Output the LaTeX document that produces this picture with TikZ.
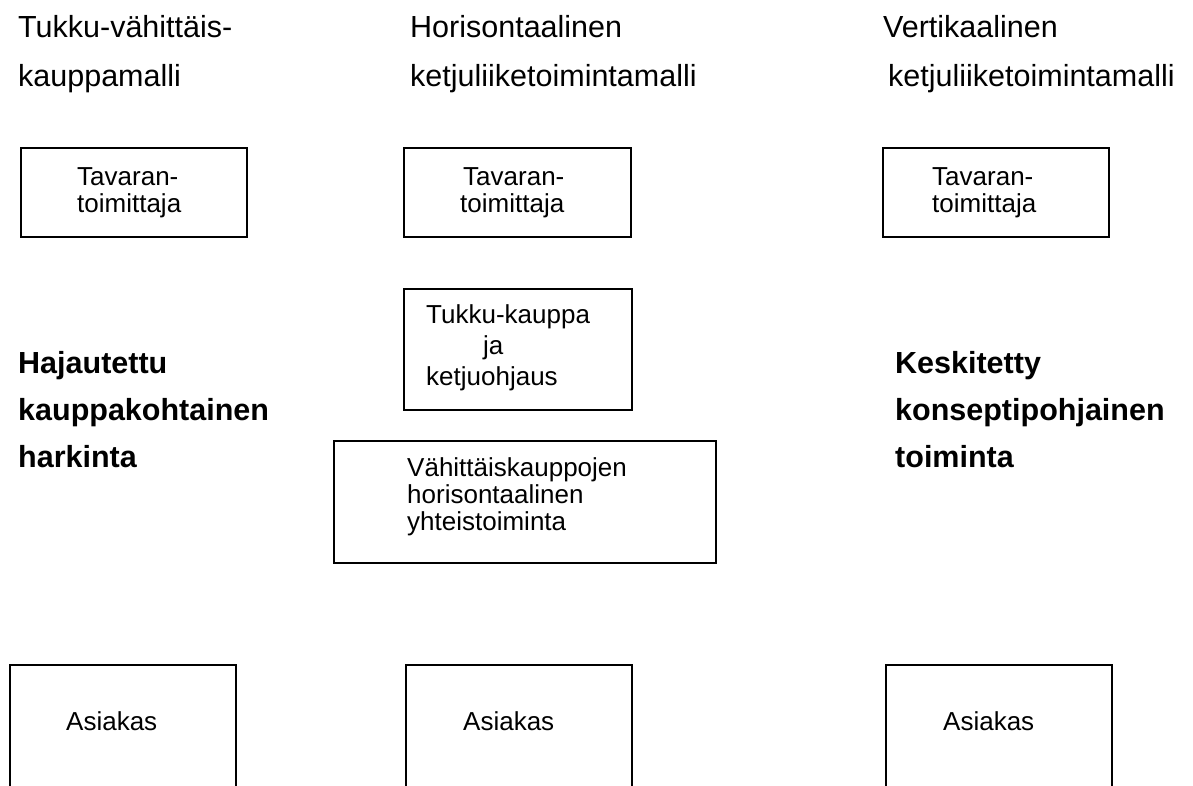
\documentclass[tikz,border=0pt]{standalone}
\usepackage{fontspec}
\setmainfont{Liberation Sans}
\begin{document}
\begin{tikzpicture}[x=1pt,y=-1pt,
  frame/.style={draw, line width=1.5pt, inner sep=0pt, anchor=north west},
  heading/.style={anchor=base west, inner sep=0pt, align=left,
    font=\fontsize{30.5}{49}\selectfont},
  boldtext/.style={anchor=base west, inner sep=0pt, align=left,
    font=\fontsize{30.5}{47}\selectfont\bfseries},
  boxtext/.style={anchor=base west, inner sep=0pt, align=left,
    font=\fontsize{26}{26.8}\selectfont},
  midtext/.style={anchor=base west, inner sep=0pt, align=left,
    font=\fontsize{26}{31}\selectfont},
]
\useasboundingbox (0,0) rectangle (1193,785);
\clip (0,0) rectangle (1193,785);

% column headings (placed by the baseline of their last line)
\node[heading] (h1) at (18,86) {Tukku-vähittäis-\\kauppamalli};
\node[heading] (h2) at (410,86) {Horisontaalinen\\ketjuliiketoimintamalli};
\node[heading] (h3) at (883,86) {Vertikaalinen\\\hspace*{5pt}ketjuliiketoimintamalli};

% suppliers
\node[frame, minimum width=226pt, minimum height=89pt] (sup1) at (20,147) {};
\node[frame, minimum width=227pt, minimum height=89pt] (sup2) at (403,147) {};
\node[frame, minimum width=226pt, minimum height=89pt] (sup3) at (882,147) {};
\node[boxtext] (sup1t) at (77,212) {Tavaran-\\toimittaja};
\node[boxtext] (sup2t) at (460,212) {\hspace*{3pt}Tavaran-\\toimittaja};
\node[boxtext] (sup3t) at (932,212) {Tavaran-\\toimittaja};

% middle column
\node[frame, minimum width=228pt, minimum height=121pt] (whole) at (403,288) {};
\node[midtext] (wholet) at (426,385) {Tukku-kauppa\\\hspace*{57pt}ja\\ketjuohjaus};
\node[frame, minimum width=382pt, minimum height=122pt] (coop) at (333,440) {};
\node[boxtext] (coopt) at (407,530)
  {Vähittäiskauppojen\\horisontaalinen\\yhteistoiminta};

% side texts
\node[boldtext] (left) at (18,467) {Hajautettu\\kauppakohtainen\\harkinta};
\node[boldtext] (right) at (895,467) {Keskitetty\\konseptipohjainen\\toiminta};

% customers (boxes run on past the lower edge)
\node[frame, minimum width=226pt, minimum height=200pt] (cus1) at (9,664) {};
\node[frame, minimum width=226pt, minimum height=200pt] (cus2) at (405,664) {};
\node[frame, minimum width=226pt, minimum height=200pt] (cus3) at (885,664) {};
\node[boxtext] (cus1t) at (66,730) {Asiakas};
\node[boxtext] (cus2t) at (463,730) {Asiakas};
\node[boxtext] (cus3t) at (943,730) {Asiakas};
\end{tikzpicture}
\end{document}
